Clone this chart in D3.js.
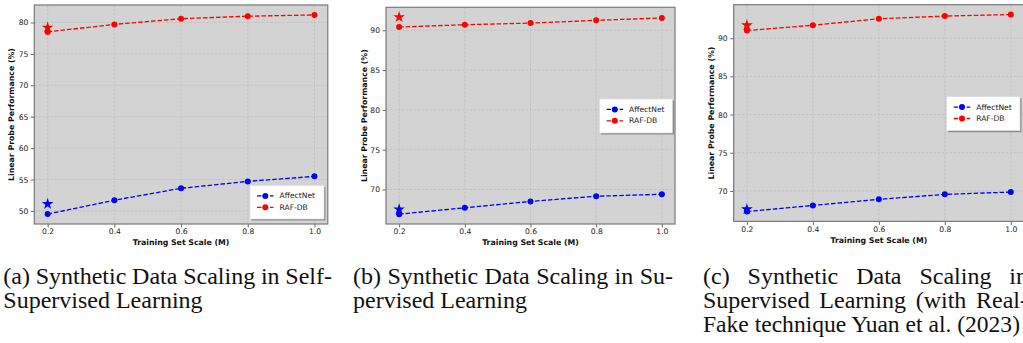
<!DOCTYPE html>
<html><head><meta charset="utf-8">
<script src="https://cdn.jsdelivr.net/npm/d3@7"></script>
<style>body{margin:0;background:#fff;} svg{display:block;}</style>
</head><body><svg id="c" width="1023" height="343"></svg>
<script>
// ---------- data ----------
const trainingScales = [0.2, 0.4, 0.6, 0.8, 1.0];
const xTickLabels = ["0.2", "0.4", "0.6", "0.8", "1.0"];
const seriesNames = ["AffectNet", "RAF-DB"];

const affectA = [49.5, 51.7, 53.6, 54.7, 55.5];
const rafA    = [78.5, 79.7, 80.6, 81.0, 81.2];
const starA   = [51.1, 79.2];           // [AffectNet, RAF-DB] reference at 0.2
const yTicksA = [50, 55, 60, 65, 70, 75, 80];

const affectB = [66.9, 67.7, 68.5, 69.15, 69.4];
const rafB    = [90.4, 90.7, 90.9, 91.25, 91.55];
const starB   = [67.5, 91.65];
const yTicksB = [70, 75, 80, 85, 90];

const affectC = [67.3, 68.1, 68.9, 69.55, 69.85];
const rafC    = [91.0, 91.7, 92.55, 92.9, 93.1];
const starC   = [67.6, 91.7];
const yTicksC = [70, 75, 80, 85, 90];

const xLabel = "Training Set Scale (M)";
const yLabel = "Linear Probe Performance (%)";

const captionA = ["(a) Synthetic Data Scaling in Self-", "Supervised Learning"];
const captionB = ["(b) Synthetic Data Scaling in Su-", "pervised Learning"];
const captionC = ["(c) Synthetic Data Scaling in", "Supervised Learning (with Real-", "Fake technique Yuan et al. (2023)"];

// ---------- layout ----------
const panels = [
  {affect: affectA, raf: rafA, star: starA, yTicks: yTicksA, caption: captionA,
   L: 34.3, R: 327.8, T: 5, B: 224, ylabX: 11.7, xlabY: 242.3, tickY: 231.5,
   leg: {x: 250, y: 185.5, w: 74, h: 33.5},
   cap: {x: 3.3, w: 328.7, maxLast: 320}},
  {affect: affectB, raf: rafB, star: starB, yTicks: yTicksB, caption: captionB,
   L: 386, R: 675, T: 7.3, B: 224, ylabX: 364.3, xlabY: 242.3, tickY: 231.5,
   leg: {x: 599.5, y: 99, w: 73, h: 34},
   cap: {x: 353, w: 320, maxLast: 320}},
  {affect: affectC, raf: rafC, star: starC, yTicks: yTicksC, caption: captionC,
   L: 733.7, R: 1024, T: 4.7, B: 221.4, ylabX: 711.7, xlabY: 240, tickY: 229.3,
   leg: {x: 946.7, y: 96.7, w: 73.3, h: 34},
   cap: {x: 703, w: 325, maxLast: 317}}
];

const colors = {affect: "#0000ff", raf: "#ff0000"};
const svg = d3.select("#c");
const FONT = "DejaVu Sans, sans-serif";

panels.forEach(p => {
  const g = svg.append("g");
  const x = d3.scaleLinear().domain([0.16, 1.04]).range([p.L, p.R]);
  const all = p.affect.concat(p.raf, p.star);
  const lo = d3.min(all), hi = d3.max(all), m = (hi - lo) * 0.05;
  const y = d3.scaleLinear().domain([lo - m, hi + m]).range([p.B, p.T]);

  // background
  g.append("rect").attr("x", p.L).attr("y", p.T).attr("width", p.R - p.L).attr("height", p.B - p.T)
    .attr("fill", "#d3d3d3");

  // grid
  const clipId = "clip" + Math.round(p.L);
  svg.append("clipPath").attr("id", clipId).append("rect")
    .attr("x", p.L).attr("y", p.T).attr("width", p.R - p.L).attr("height", p.B - p.T);
  const grid = g.append("g").attr("stroke", "#bcbcbc").attr("stroke-width", 0.7).attr("stroke-dasharray", "2.5,1.5");
  trainingScales.forEach(v => grid.append("line").attr("x1", x(v)).attr("x2", x(v)).attr("y1", p.T).attr("y2", p.B));
  p.yTicks.forEach(v => grid.append("line").attr("y1", y(v)).attr("y2", y(v)).attr("x1", p.L).attr("x2", p.R));

  // axes (ticks + labels) through d3 axes
  const xAxis = d3.axisBottom(x).tickValues(trainingScales).tickFormat((d, i) => xTickLabels[i]).tickSizeOuter(0).tickSize(3.5).tickPadding(2.5);
  const yAxis = d3.axisLeft(y).tickValues(p.yTicks).tickFormat(d3.format("d")).tickSizeOuter(0).tickSize(3.5).tickPadding(2.5);
  const gx = g.append("g").attr("transform", `translate(0,${p.B})`).call(xAxis);
  const gy = g.append("g").attr("transform", `translate(${p.L},0)`).call(yAxis);
  [gx, gy].forEach(a => {
    a.select(".domain").remove();
    a.selectAll(".tick line").attr("stroke", "#444").attr("stroke-width", 0.8);
    a.selectAll(".tick text").attr("fill", "#222").style("font-family", FONT).style("font-size", "7.6px");
  });
  gx.selectAll(".tick text").attr("dy", null).attr("y", p.tickY - p.B).attr("dominant-baseline", "central");
  gy.selectAll(".tick text").attr("dy", null).attr("dominant-baseline", "central");

  // frame
  g.append("rect").attr("x", p.L).attr("y", p.T).attr("width", p.R - p.L).attr("height", p.B - p.T)
    .attr("fill", "none").attr("stroke", "#7a7a7a").attr("stroke-width", 1.2);

  // axis titles
  g.append("text").attr("x", (p.L + p.R) / 2).attr("y", p.xlabY).attr("text-anchor", "middle")
    .attr("dominant-baseline", "central").style("font-family", FONT).style("font-size", "7.8px")
    .style("font-weight", "bold").attr("fill", "#111").text(xLabel);
  g.append("text").attr("transform", `translate(${p.ylabX},${(p.T + p.B) / 2}) rotate(-90)`)
    .attr("text-anchor", "middle").attr("dominant-baseline", "central").style("font-family", FONT)
    .style("font-size", "7.8px").style("font-weight", "bold").attr("fill", "#111").text(yLabel);

  // series
  const plot = g.append("g").attr("clip-path", `url(#${clipId})`);
  const line = d3.line().x((d, i) => x(trainingScales[i])).y(d => y(d));
  [["affect", p.affect], ["raf", p.raf]].forEach(([k, vals]) => {
    plot.append("path").attr("d", line(vals)).attr("fill", "none").attr("stroke", colors[k])
      .attr("stroke-width", 1.3).attr("stroke-dasharray", "4.5,2");
    plot.selectAll(null).data(vals).enter().append("circle")
      .attr("cx", (d, i) => x(trainingScales[i])).attr("cy", d => y(d)).attr("r", 3)
      .attr("fill", colors[k]);
  });
  const star = d3.symbol().type(d3.symbolStar).size(42);
  [["affect", p.star[0]], ["raf", p.star[1]]].forEach(([k, v]) => {
    plot.append("path").attr("d", star()).attr("transform", `translate(${x(trainingScales[0])},${y(v)})`)
      .attr("fill", colors[k]);
  });

  // legend
  const lg = p.leg;
  g.append("rect").attr("x", lg.x + 1.5).attr("y", lg.y + 1.5).attr("width", lg.w).attr("height", lg.h)
    .attr("fill", "#8a8a8a");
  g.append("rect").attr("x", lg.x).attr("y", lg.y).attr("width", lg.w).attr("height", lg.h)
    .attr("fill", "#ffffff").attr("stroke", "#dddddd").attr("stroke-width", 0.6);
  ["affect", "raf"].forEach((k, i) => {
    const ry = lg.y + 10.4 + i * 11.4;
    g.append("line").attr("x1", lg.x + 7).attr("x2", lg.x + 23.5).attr("y1", ry).attr("y2", ry)
      .attr("stroke", colors[k]).attr("stroke-width", 1.3).attr("stroke-dasharray", "4.5,2");
    g.append("circle").attr("cx", lg.x + 15.3).attr("cy", ry).attr("r", 3).attr("fill", colors[k]);
    g.append("text").attr("x", lg.x + 29.5).attr("y", ry).attr("dominant-baseline", "central")
      .style("font-family", FONT).style("font-size", "7.6px").attr("fill", "#222").text(seriesNames[i]);
  });

  // caption
  const cfont = "'Liberation Serif', 'Times New Roman', serif";
  p.caption.forEach((txt, li) => {
    const base = 284 + li * 24;
    const isLast = li === p.caption.length - 1;
    if (isLast) {
      const t = g.append("text").attr("x", p.cap.x).attr("y", base).style("font-family", cfont)
        .style("font-size", "24px").attr("fill", "#111").text(txt);
      const w = t.node().getComputedTextLength();
      if (w > p.cap.maxLast) t.attr("textLength", p.cap.maxLast).attr("lengthAdjust", "spacingAndGlyphs");
    } else {
      const words = txt.split(" ");
      const nodes = words.map(w => g.append("text").attr("y", base).style("font-family", cfont)
        .style("font-size", "24px").attr("fill", "#111").text(w));
      const widths = nodes.map(n => n.node().getComputedTextLength());
      const gap = (p.cap.w - d3.sum(widths)) / (words.length - 1);
      let cx = p.cap.x;
      nodes.forEach((n, i) => { n.attr("x", cx); cx += widths[i] + gap; });
    }
  });
});
</script></body></html>
